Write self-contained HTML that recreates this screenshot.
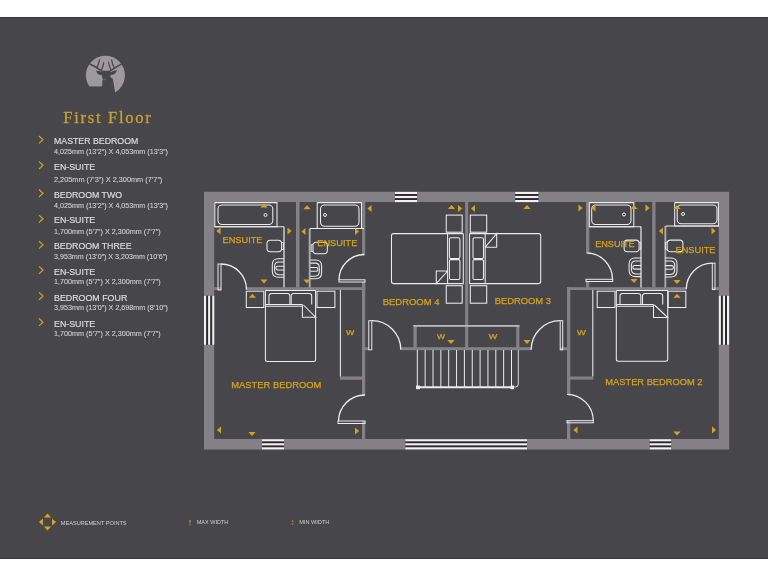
<!DOCTYPE html>
<html><head><meta charset="utf-8"><style>
html,body{margin:0;padding:0;background:#ffffff;width:768px;height:576px;overflow:hidden}
svg{position:absolute;left:0;top:0;display:block;will-change:transform}
text{font-family:"Liberation Sans",sans-serif}
</style></head><body>
<svg width="768" height="576" viewBox="0 0 768 576">
<rect x="0" y="17" width="768" height="542" fill="#47464b"/>
<rect x="0" y="17" width="768" height="1" fill="#3c3b40"/>
<rect x="0" y="558" width="768" height="1" fill="#3c3b40"/>
<path fill-rule="evenodd" fill="#838186" d="M204,191.8 H729.2 V449.4 H204 Z M214.2,202 V439 H718.8 V202 Z"/>
<rect x="296.00" y="202.00" width="3.50" height="85.50" fill="#838186"/>
<rect x="214.00" y="287.20" width="7.00" height="2.80" fill="#838186"/>
<rect x="246.00" y="287.20" width="119.20" height="2.80" fill="#838186"/>
<rect x="362.00" y="282.00" width="3.20" height="113.00" fill="#838186"/>
<rect x="362.00" y="421.00" width="3.20" height="18.00" fill="#838186"/>
<rect x="340.00" y="376.50" width="22.00" height="3.30" fill="#838186"/>
<rect x="365.00" y="347.20" width="4.00" height="3.00" fill="#838186"/>
<rect x="401.00" y="347.20" width="130.00" height="3.00" fill="#838186"/>
<rect x="560.00" y="347.20" width="8.00" height="3.00" fill="#838186"/>
<rect x="413.40" y="325.00" width="3.40" height="25.00" fill="#838186"/>
<rect x="516.20" y="325.00" width="3.20" height="25.00" fill="#838186"/>
<rect x="465.10" y="202.00" width="3.10" height="148.00" fill="#838186"/>
<rect x="567.00" y="287.20" width="3.30" height="106.80" fill="#838186"/>
<rect x="567.00" y="421.00" width="3.30" height="18.00" fill="#838186"/>
<rect x="567.00" y="287.20" width="119.00" height="2.80" fill="#838186"/>
<rect x="713.00" y="287.20" width="6.00" height="2.80" fill="#838186"/>
<rect x="570.00" y="376.50" width="23.30" height="3.10" fill="#838186"/>
<rect x="586.00" y="202.00" width="3.30" height="50.50" fill="#838186"/>
<rect x="586.00" y="281.50" width="3.30" height="6.00" fill="#838186"/>
<rect x="652.20" y="202.00" width="3.30" height="85.50" fill="#838186"/>
<rect x="413.40" y="325.00" width="106.00" height="1.80" fill="#b9b8bc"/>
<rect x="283.00" y="226.70" width="2.00" height="60.80" fill="#a9a8ac"/>
<rect x="308.70" y="228.40" width="2.00" height="59.10" fill="#a9a8ac"/>
<rect x="362.10" y="202.00" width="3.10" height="52.50" fill="#838186"/>
<rect x="640.00" y="226.70" width="2.00" height="60.80" fill="#a9a8ac"/>
<rect x="664.40" y="226.00" width="1.90" height="61.50" fill="#a9a8ac"/>
<rect x="394.80" y="191.90" width="22.30" height="10.00" fill="#2b2a2e"/><rect x="394.80" y="191.90" width="22.30" height="2.10" fill="#f2f1f0"/><rect x="394.80" y="195.95" width="22.30" height="2.10" fill="#f2f1f0"/><rect x="394.80" y="200.00" width="22.30" height="2.10" fill="#f2f1f0"/>
<rect x="515.20" y="191.90" width="23.30" height="10.00" fill="#2b2a2e"/><rect x="515.20" y="191.90" width="23.30" height="2.10" fill="#f2f1f0"/><rect x="515.20" y="195.95" width="23.30" height="2.10" fill="#f2f1f0"/><rect x="515.20" y="200.00" width="23.30" height="2.10" fill="#f2f1f0"/>
<rect x="262.00" y="439.20" width="22.00" height="10.00" fill="#2b2a2e"/><rect x="262.00" y="439.20" width="22.00" height="2.10" fill="#f2f1f0"/><rect x="262.00" y="443.25" width="22.00" height="2.10" fill="#f2f1f0"/><rect x="262.00" y="447.30" width="22.00" height="2.10" fill="#f2f1f0"/>
<rect x="405.30" y="439.20" width="121.70" height="10.00" fill="#2b2a2e"/><rect x="405.30" y="439.20" width="121.70" height="2.10" fill="#f2f1f0"/><rect x="405.30" y="443.25" width="121.70" height="2.10" fill="#f2f1f0"/><rect x="405.30" y="447.30" width="121.70" height="2.10" fill="#f2f1f0"/>
<rect x="649.70" y="439.20" width="21.50" height="10.00" fill="#2b2a2e"/><rect x="649.70" y="439.20" width="21.50" height="2.10" fill="#f2f1f0"/><rect x="649.70" y="443.25" width="21.50" height="2.10" fill="#f2f1f0"/><rect x="649.70" y="447.30" width="21.50" height="2.10" fill="#f2f1f0"/>
<rect x="204.00" y="295.70" width="10.30" height="49.10" fill="#2b2a2e"/><rect x="204.00" y="295.70" width="2.10" height="49.10" fill="#f2f1f0"/><rect x="208.10" y="295.70" width="2.10" height="49.10" fill="#f2f1f0"/><rect x="212.20" y="295.70" width="2.10" height="49.10" fill="#f2f1f0"/>
<rect x="718.80" y="295.70" width="10.30" height="49.10" fill="#2b2a2e"/><rect x="718.80" y="295.70" width="2.10" height="49.10" fill="#f2f1f0"/><rect x="722.90" y="295.70" width="2.10" height="49.10" fill="#f2f1f0"/><rect x="727.00" y="295.70" width="2.10" height="49.10" fill="#f2f1f0"/>
<polyline points="214.80,202.60 214.80,226.70 277.00,226.70 277.00,202.60 214.80,202.60" fill="none" stroke="#ecebee" stroke-width="1.05"/><rect x="218.00" y="205.00" width="54.80" height="19.50" rx="4.0" fill="none" stroke="#ecebee" stroke-width="1.05"/><circle cx="265.5" cy="215.0" r="1.5" fill="none" stroke="#ecebee" stroke-width="1"/>
<polyline points="214.20,226.70 284.00,226.70" fill="none" stroke="#ecebee" stroke-width="1.05"/>
<polyline points="317.20,202.60 317.20,228.40 361.50,228.40 361.50,202.60 317.20,202.60" fill="none" stroke="#ecebee" stroke-width="1.05"/><rect x="320.50" y="205.00" width="38.50" height="21.20" rx="4.0" fill="none" stroke="#ecebee" stroke-width="1.05"/><circle cx="325.0" cy="215.0" r="1.5" fill="none" stroke="#ecebee" stroke-width="1"/>
<polyline points="310.00,228.40 364.00,228.40" fill="none" stroke="#ecebee" stroke-width="1.05"/>
<polyline points="589.30,202.60 589.30,226.70 633.80,226.70 633.80,202.60 589.30,202.60" fill="none" stroke="#ecebee" stroke-width="1.05"/><rect x="591.70" y="205.00" width="39.30" height="19.50" rx="4.0" fill="none" stroke="#ecebee" stroke-width="1.05"/><circle cx="624.0" cy="214.5" r="1.5" fill="none" stroke="#ecebee" stroke-width="1"/>
<polyline points="589.30,226.70 641.00,226.70" fill="none" stroke="#ecebee" stroke-width="1.05"/>
<polyline points="674.70,202.60 674.70,226.00 718.40,226.00 718.40,202.60 674.70,202.60" fill="none" stroke="#ecebee" stroke-width="1.05"/><rect x="677.20" y="205.00" width="39.80" height="18.80" rx="4.0" fill="none" stroke="#ecebee" stroke-width="1.05"/><circle cx="683.0" cy="214.0" r="1.5" fill="none" stroke="#ecebee" stroke-width="1"/>
<polyline points="665.50,226.00 718.80,226.00" fill="none" stroke="#ecebee" stroke-width="1.05"/>
<rect x="218.00" y="264.00" width="3.00" height="26.00" fill="none" stroke="#ecebee" stroke-width="1"/><path d="M221.0,264.0 A25.5,25.5 0 0 1 246.5,289.5" fill="none" stroke="#ecebee" stroke-width="1.3"/>
<rect x="339.00" y="279.80" width="26.00" height="2.20" fill="none" stroke="#ecebee" stroke-width="1"/><path d="M339.0,280.0 A25.5,25.5 0 0 1 364.5,254.5" fill="none" stroke="#ecebee" stroke-width="1.3"/>
<rect x="368.80" y="320.70" width="3.00" height="29.10" fill="none" stroke="#ecebee" stroke-width="1"/><path d="M371.8,320.7 A29.0,29.0 0 0 1 400.8,349.8" fill="none" stroke="#ecebee" stroke-width="1.3"/>
<rect x="560.20" y="320.70" width="2.50" height="29.10" fill="none" stroke="#ecebee" stroke-width="1"/><path d="M560.2,320.7 A29.0,29.0 0 0 0 531.2,349.8" fill="none" stroke="#ecebee" stroke-width="1.3"/>
<rect x="586.00" y="279.30" width="26.70" height="2.20" fill="none" stroke="#ecebee" stroke-width="1"/><path d="M586.5,252.8 A26.5,26.5 0 0 1 612.5,279.3" fill="none" stroke="#ecebee" stroke-width="1.3"/>
<rect x="712.30" y="263.20" width="2.70" height="26.30" fill="none" stroke="#ecebee" stroke-width="1"/><path d="M712.3,263.2 A26.0,26.0 0 0 0 686.3,289.2" fill="none" stroke="#ecebee" stroke-width="1.3"/>
<rect x="338.00" y="421.00" width="27.00" height="2.50" fill="none" stroke="#ecebee" stroke-width="1"/><path d="M365.0,395.0 A26.5,26.5 0 0 0 338.5,421.0" fill="none" stroke="#ecebee" stroke-width="1.3"/>
<rect x="567.00" y="420.70" width="26.30" height="2.10" fill="none" stroke="#ecebee" stroke-width="1"/><path d="M567.0,394.3 A26.5,26.5 0 0 1 593.3,420.7" fill="none" stroke="#ecebee" stroke-width="1.3"/>
<path d="M265.4,290.4 V359.5 Q265.4,361.5 267.4,361.5 H313.6 Q315.6,361.5 315.6,359.5 V290.4" fill="none" stroke="#ecebee" stroke-width="1.05"/><polyline points="265.40,290.40 315.60,290.40" fill="none" stroke="#ecebee" stroke-width="1.05"/><path d="M269.0,304.5 V295.9 Q269.0,293.4 271.5,293.4 H287.4 Q289.9,293.4 289.9,295.9 V304.5" fill="none" stroke="#ecebee" stroke-width="1.05"/><path d="M291.2,304.5 V295.9 Q291.2,293.4 293.7,293.4 H309.2 Q311.7,293.4 311.7,295.9 V304.5" fill="none" stroke="#ecebee" stroke-width="1.05"/>
<polyline points="265.40,304.50 302.40,304.50" fill="none" stroke="#ecebee" stroke-width="1.05"/>
<polyline points="265.40,306.30 302.40,306.30" fill="none" stroke="#ecebee" stroke-width="1.05"/>
<polyline points="302.40,304.50 302.40,317.25 315.60,317.25 303.50,305.00" fill="none" stroke="#ecebee" stroke-width="1.05"/>
<path d="M616.3,290.4 V359.2 Q616.3,361.2 618.3,361.2 H665.7 Q667.7,361.2 667.7,359.2 V290.4" fill="none" stroke="#ecebee" stroke-width="1.05"/><polyline points="616.30,290.40 667.70,290.40" fill="none" stroke="#ecebee" stroke-width="1.05"/><path d="M620.0,304.5 V295.9 Q620.0,293.4 622.5,293.4 H638.3 Q640.8,293.4 640.8,295.9 V304.5" fill="none" stroke="#ecebee" stroke-width="1.05"/><path d="M642.5,304.5 V295.9 Q642.5,293.4 645.0,293.4 H660.2 Q662.7,293.4 662.7,295.9 V304.5" fill="none" stroke="#ecebee" stroke-width="1.05"/>
<polyline points="616.30,304.50 653.50,304.50" fill="none" stroke="#ecebee" stroke-width="1.05"/>
<polyline points="616.30,306.30 653.50,306.30" fill="none" stroke="#ecebee" stroke-width="1.05"/>
<polyline points="653.50,304.50 653.50,317.50 667.70,317.50 654.50,305.00" fill="none" stroke="#ecebee" stroke-width="1.05"/>
<rect x="246.30" y="291.20" width="17.50" height="16.30" rx="0.0" fill="none" stroke="#ecebee" stroke-width="1.05"/>
<rect x="317.00" y="291.20" width="17.90" height="16.30" rx="0.0" fill="none" stroke="#ecebee" stroke-width="1.05"/>
<rect x="597.20" y="291.20" width="17.80" height="16.30" rx="0.0" fill="none" stroke="#ecebee" stroke-width="1.05"/>
<rect x="668.20" y="291.20" width="17.60" height="16.30" rx="0.0" fill="none" stroke="#ecebee" stroke-width="1.05"/>
<rect x="446.25" y="215.10" width="15.95" height="17.10" rx="0.0" fill="none" stroke="#ecebee" stroke-width="1.05"/>
<rect x="446.25" y="285.70" width="15.95" height="17.50" rx="0.0" fill="none" stroke="#ecebee" stroke-width="1.05"/>
<rect x="470.30" y="215.10" width="16.40" height="17.10" rx="0.0" fill="none" stroke="#ecebee" stroke-width="1.05"/>
<rect x="470.30" y="285.70" width="16.40" height="17.50" rx="0.0" fill="none" stroke="#ecebee" stroke-width="1.05"/>
<polyline points="340.40,290.00 340.40,376.50" fill="none" stroke="#ecebee" stroke-width="1.05"/>
<polyline points="592.80,290.00 592.80,376.50" fill="none" stroke="#ecebee" stroke-width="1.05"/>
<path d="M463.3,233.6 H393.5 Q391.5,233.6 391.5,235.6 V281.6 Q391.5,283.6 393.5,283.6 H463.3 V233.6" fill="none" stroke="#ecebee" stroke-width="1.05"/>
<rect x="449.40" y="237.80" width="10.50" height="20.80" rx="1.5" fill="none" stroke="#ecebee" stroke-width="1.05"/>
<rect x="449.40" y="259.60" width="10.50" height="19.80" rx="1.5" fill="none" stroke="#ecebee" stroke-width="1.05"/>
<polyline points="447.60,233.60 447.60,283.60" fill="none" stroke="#ecebee" stroke-width="1.05"/>
<polyline points="447.60,271.00 436.25,271.00 436.25,283.60 447.60,271.00" fill="none" stroke="#ecebee" stroke-width="1.05"/>
<path d="M469.6,233.6 H538.7 Q540.7,233.6 540.7,235.6 V281.6 Q540.7,283.6 538.7,283.6 H469.6 V233.6" fill="none" stroke="#ecebee" stroke-width="1.05"/>
<rect x="473.00" y="237.80" width="10.50" height="20.80" rx="1.5" fill="none" stroke="#ecebee" stroke-width="1.05"/>
<rect x="473.00" y="259.60" width="10.50" height="19.80" rx="1.5" fill="none" stroke="#ecebee" stroke-width="1.05"/>
<polyline points="485.20,233.60 485.20,283.60" fill="none" stroke="#ecebee" stroke-width="1.05"/>
<polyline points="485.20,247.20 496.70,247.20 496.70,233.60 485.20,247.20" fill="none" stroke="#ecebee" stroke-width="1.05"/>
<polyline points="417.30,350.00 417.30,387.00" fill="none" stroke="#ecebee" stroke-width="1.00"/>
<polyline points="425.15,350.00 425.15,387.00" fill="none" stroke="#ecebee" stroke-width="1.00"/>
<polyline points="433.00,350.00 433.00,387.00" fill="none" stroke="#ecebee" stroke-width="1.00"/>
<polyline points="440.85,350.00 440.85,387.00" fill="none" stroke="#ecebee" stroke-width="1.00"/>
<polyline points="448.70,350.00 448.70,387.00" fill="none" stroke="#ecebee" stroke-width="1.00"/>
<polyline points="456.55,350.00 456.55,387.00" fill="none" stroke="#ecebee" stroke-width="1.00"/>
<polyline points="464.40,350.00 464.40,387.00" fill="none" stroke="#ecebee" stroke-width="1.00"/>
<polyline points="472.25,350.00 472.25,387.00" fill="none" stroke="#ecebee" stroke-width="1.00"/>
<polyline points="480.10,350.00 480.10,387.00" fill="none" stroke="#ecebee" stroke-width="1.00"/>
<polyline points="487.95,350.00 487.95,387.00" fill="none" stroke="#ecebee" stroke-width="1.00"/>
<polyline points="495.80,350.00 495.80,387.00" fill="none" stroke="#ecebee" stroke-width="1.00"/>
<polyline points="503.65,350.00 503.65,387.00" fill="none" stroke="#ecebee" stroke-width="1.00"/>
<polyline points="511.50,350.00 511.50,387.00" fill="none" stroke="#ecebee" stroke-width="1.00"/>
<polyline points="417.00,387.20 512.00,387.20" fill="none" stroke="#ecebee" stroke-width="2.00"/>
<path d="M512,387 H515.5 Q518.3,387 518.3,384 V350" fill="none" stroke="#ecebee" stroke-width="0.9"/>
<rect x="416.00" y="385.50" width="4.00" height="3.70" fill="#ecebee"/>
<rect x="510.50" y="385.50" width="3.50" height="3.70" fill="#ecebee"/>
<rect x="267.00" y="240.20" width="14.60" height="11.60" rx="3.2" fill="none" stroke="#ecebee" stroke-width="1.05"/><polyline points="281.60,242.50 283.40,242.50 283.40,249.50 281.60,249.50" fill="none" stroke="#ecebee" stroke-width="0.90"/>
<rect x="313.00" y="242.30" width="14.30" height="11.50" rx="3.2" fill="none" stroke="#ecebee" stroke-width="1.05"/><polyline points="313.00,244.60 311.20,244.60 311.20,251.50 313.00,251.50" fill="none" stroke="#ecebee" stroke-width="0.90"/>
<rect x="624.10" y="240.10" width="15.00" height="11.60" rx="3.2" fill="none" stroke="#ecebee" stroke-width="1.05"/><polyline points="639.10,242.40 640.90,242.40 640.90,249.40 639.10,249.40" fill="none" stroke="#ecebee" stroke-width="0.90"/>
<rect x="667.20" y="240.10" width="15.70" height="11.60" rx="3.2" fill="none" stroke="#ecebee" stroke-width="1.05"/><polyline points="667.20,242.40 665.40,242.40 665.40,249.40 667.20,249.40" fill="none" stroke="#ecebee" stroke-width="0.90"/>
<path d="M284.2,258.8 H278.3 Q272.3,258.8 272.3,264.8 V271.3 Q272.3,277.3 278.3,277.3 H284.2" fill="none" stroke="#ecebee" stroke-width="1.05"/><path d="M284.2,261.9 H278.8 Q274.6,261.9 274.6,266.3 V269.8 Q274.6,274.7 278.8,274.7 H284.2" fill="none" stroke="#ecebee" stroke-width="1.05"/><path d="M284.2,266.2 H277.8 Q275.9,266.2 275.9,268.1 Q275.9,269.9 277.8,269.9 H284.2" fill="none" stroke="#ecebee" stroke-width="1.05"/>
<path d="M310.2,260.0 H315.6 Q321.6,260.0 321.6,266.0 V272.8 Q321.6,278.8 315.6,278.8 H310.2" fill="none" stroke="#ecebee" stroke-width="1.05"/><path d="M310.2,263.1 H315.1 Q319.3,263.1 319.3,267.5 V271.3 Q319.3,276.2 315.1,276.2 H310.2" fill="none" stroke="#ecebee" stroke-width="1.05"/><path d="M310.2,267.5 H316.1 Q318.0,267.5 318.0,269.4 Q318.0,271.3 316.1,271.3 H310.2" fill="none" stroke="#ecebee" stroke-width="1.05"/>
<path d="M641.0,257.9 H635.1 Q629.1,257.9 629.1,263.9 V270.6 Q629.1,276.6 635.1,276.6 H641.0" fill="none" stroke="#ecebee" stroke-width="1.05"/><path d="M641.0,261.0 H635.6 Q631.4,261.0 631.4,265.4 V269.1 Q631.4,274.0 635.6,274.0 H641.0" fill="none" stroke="#ecebee" stroke-width="1.05"/><path d="M641.0,265.4 H634.6 Q632.7,265.4 632.7,267.2 Q632.7,269.1 634.6,269.1 H641.0" fill="none" stroke="#ecebee" stroke-width="1.05"/>
<path d="M665.3,257.9 H671.0 Q677.0,257.9 677.0,263.9 V271.0 Q677.0,277.0 671.0,277.0 H665.3" fill="none" stroke="#ecebee" stroke-width="1.05"/><path d="M665.3,261.0 H670.5 Q674.7,261.0 674.7,265.4 V269.5 Q674.7,274.4 670.5,274.4 H665.3" fill="none" stroke="#ecebee" stroke-width="1.05"/><path d="M665.3,265.6 H671.5 Q673.4,265.6 673.4,267.4 Q673.4,269.3 671.5,269.3 H665.3" fill="none" stroke="#ecebee" stroke-width="1.05"/>
<polygon points="260.4,207.5 267.6,207.5 264.0,203.4" fill="#d4a41e"/>
<polygon points="220.5,227.4 220.5,234.6 216.4,231.0" fill="#d4a41e"/>
<polygon points="287.5,227.4 287.5,234.6 291.6,231.0" fill="#d4a41e"/>
<polygon points="260.4,279.5 267.6,279.5 264.0,283.6" fill="#d4a41e"/>
<polygon points="303.4,209.3 310.6,209.3 307.0,205.2" fill="#d4a41e"/>
<polygon points="305.5,227.9 305.5,235.1 301.4,231.5" fill="#d4a41e"/>
<polygon points="355.0,227.9 355.0,235.1 359.1,231.5" fill="#d4a41e"/>
<polygon points="303.4,279.5 310.6,279.5 307.0,283.6" fill="#d4a41e"/>
<polygon points="371.5,204.9 371.5,212.1 367.4,208.5" fill="#d4a41e"/>
<polygon points="447.9,209.0 455.1,209.0 451.5,204.9" fill="#d4a41e"/>
<polygon points="458.0,204.9 458.0,212.1 462.1,208.5" fill="#d4a41e"/>
<polygon points="475.0,204.9 475.0,212.1 470.9,208.5" fill="#d4a41e"/>
<polygon points="523.4,209.0 530.6,209.0 527.0,204.9" fill="#d4a41e"/>
<polygon points="578.5,204.4 578.5,211.6 582.6,208.0" fill="#d4a41e"/>
<polygon points="595.5,204.4 595.5,211.6 591.4,208.0" fill="#d4a41e"/>
<polygon points="630.4,209.0 637.6,209.0 634.0,204.9" fill="#d4a41e"/>
<polygon points="645.5,204.4 645.5,211.6 649.6,208.0" fill="#d4a41e"/>
<polygon points="663.0,227.4 663.0,234.6 658.9,231.0" fill="#d4a41e"/>
<polygon points="673.4,209.0 680.6,209.0 677.0,204.9" fill="#d4a41e"/>
<polygon points="711.5,227.4 711.5,234.6 715.6,231.0" fill="#d4a41e"/>
<polygon points="673.4,280.0 680.6,280.0 677.0,284.1" fill="#d4a41e"/>
<polygon points="630.4,279.0 637.6,279.0 634.0,283.1" fill="#d4a41e"/>
<polygon points="248.8,297.8 256.0,297.8 252.4,293.7" fill="#d4a41e"/>
<polygon points="673.4,297.8 680.6,297.8 677.0,293.7" fill="#d4a41e"/>
<polygon points="221.0,426.4 221.0,433.6 216.9,430.0" fill="#d4a41e"/>
<polygon points="248.4,432.0 255.6,432.0 252.0,436.1" fill="#d4a41e"/>
<polygon points="355.0,427.4 355.0,434.6 359.1,431.0" fill="#d4a41e"/>
<polygon points="447.4,340.0 454.6,340.0 451.0,344.1" fill="#d4a41e"/>
<polygon points="523.4,340.0 530.6,340.0 527.0,344.1" fill="#d4a41e"/>
<polygon points="577.5,426.4 577.5,433.6 573.4,430.0" fill="#d4a41e"/>
<polygon points="673.4,431.5 680.6,431.5 677.0,435.6" fill="#d4a41e"/>
<polygon points="712.0,426.4 712.0,433.6 716.1,430.0" fill="#d4a41e"/>
<text x="222.5" y="243.3" font-size="9.5" fill="#d4a41e" stroke="#d4a41e" stroke-width="0.25" textLength="40.0" lengthAdjust="spacingAndGlyphs">ENSUITE</text>
<text x="317.3" y="246.3" font-size="9.5" fill="#d4a41e" stroke="#d4a41e" stroke-width="0.25" textLength="40.0" lengthAdjust="spacingAndGlyphs">ENSUITE</text>
<text x="595.2" y="246.8" font-size="9.5" fill="#d4a41e" stroke="#d4a41e" stroke-width="0.25" textLength="39.5" lengthAdjust="spacingAndGlyphs">ENSUITE</text>
<text x="675.5" y="253.0" font-size="9.5" fill="#d4a41e" stroke="#d4a41e" stroke-width="0.25" textLength="40.0" lengthAdjust="spacingAndGlyphs">ENSUITE</text>
<text x="231.3" y="388.2" font-size="9.0" fill="#d4a41e" stroke="#d4a41e" stroke-width="0.25" textLength="90.0" lengthAdjust="spacingAndGlyphs">MASTER BEDROOM</text>
<text x="382.7" y="305.2" font-size="9.0" fill="#d4a41e" stroke="#d4a41e" stroke-width="0.25" textLength="56.8" lengthAdjust="spacingAndGlyphs">BEDROOM 4</text>
<text x="494.7" y="303.5" font-size="9.0" fill="#d4a41e" stroke="#d4a41e" stroke-width="0.25" textLength="56.3" lengthAdjust="spacingAndGlyphs">BEDROOM 3</text>
<text x="605.3" y="384.5" font-size="9.0" fill="#d4a41e" stroke="#d4a41e" stroke-width="0.25" textLength="97.2" lengthAdjust="spacingAndGlyphs">MASTER BEDROOM 2</text>
<text x="346.0" y="334.8" font-size="7.4" fill="#d4a41e" stroke="#d4a41e" stroke-width="0.25" textLength="8.3" lengthAdjust="spacingAndGlyphs">W</text>
<text x="437.0" y="339.0" font-size="7.4" fill="#d4a41e" stroke="#d4a41e" stroke-width="0.25" textLength="8.0" lengthAdjust="spacingAndGlyphs">W</text>
<text x="488.7" y="339.0" font-size="7.4" fill="#d4a41e" stroke="#d4a41e" stroke-width="0.25" textLength="8.5" lengthAdjust="spacingAndGlyphs">W</text>
<text x="577.0" y="335.3" font-size="7.4" fill="#d4a41e" stroke="#d4a41e" stroke-width="0.25" textLength="8.8" lengthAdjust="spacingAndGlyphs">W</text>
<g>
<circle cx="105.4" cy="75.35" r="19.55" fill="#9c9a9e"/>
<polygon points="84.00,86.48 102.39,86.48 102.39,99.26 84.00,99.26" fill="#47464b"/>
<polygon points="102.39,80.28 110.64,77.36 112.61,78.45 113.93,84.66 116.12,99.26 101.52,99.26 101.52,86.85 102.25,86.12" fill="#47464b"/>
<polygon points="102.61,70.64 109.55,70.64 111.01,72.83 110.42,77.21 109.55,81.15 107.50,82.76 104.80,82.76 103.12,81.15 102.25,77.21 101.37,72.83" fill="#47464b"/>
<polygon points="96.04,70.50 99.47,70.93 102.39,72.61 102.25,75.02 98.96,74.80 96.99,73.12" fill="#47464b"/>
<polygon points="116.99,70.06 113.34,70.93 109.99,72.61 110.28,75.02 113.93,74.58 115.97,72.61" fill="#47464b"/>
<polyline points="89.11,63.64 95.68,66.99 102.61,71.52" fill="none" stroke="#47464b" stroke-width="1.50" stroke-linecap="round" stroke-linejoin="round"/>
<polyline points="99.47,59.84 98.31,64.58 96.77,68.01" fill="none" stroke="#47464b" stroke-width="1.20" stroke-linecap="round" stroke-linejoin="round"/>
<polyline points="103.71,62.61 102.83,66.55 101.37,69.91" fill="none" stroke="#47464b" stroke-width="1.20" stroke-linecap="round" stroke-linejoin="round"/>
<polyline points="121.81,63.93 116.12,67.14 109.18,71.52" fill="none" stroke="#47464b" stroke-width="1.50" stroke-linecap="round" stroke-linejoin="round"/>
<polyline points="111.59,59.84 112.76,64.58 114.29,67.72" fill="none" stroke="#47464b" stroke-width="1.20" stroke-linecap="round" stroke-linejoin="round"/>
<polyline points="108.53,62.47 109.55,66.55 111.15,69.91" fill="none" stroke="#47464b" stroke-width="1.20" stroke-linecap="round" stroke-linejoin="round"/>
<polyline points="103.34,79.69 105.90,79.69" fill="none" stroke="#8d8b90" stroke-width="0.6"/>
</g>
<text x="63.3" y="122.9" style="font-family:'Liberation Serif',serif" font-size="16.6" fill="#c9a033" stroke="#c9a033" stroke-width="0.3" textLength="87.5" lengthAdjust="spacing">First Floor</text>
<polyline points="39,136.0 43,139.7 39,143.4" fill="none" stroke="#d4a41e" stroke-width="1.2"/>
<text x="54" y="144.2" font-size="9.3" fill="#dcdbde" stroke="#dcdbde" stroke-width="0.2" textLength="84.3" lengthAdjust="spacingAndGlyphs">MASTER BEDROOM</text>
<text x="54" y="153.8" font-size="7.2" fill="#d3d1d5" stroke="#d3d1d5" stroke-width="0.1" textLength="114.0" lengthAdjust="spacingAndGlyphs">4,025mm (13’2”) X 4,053mm (13’3”)</text>
<polyline points="39,161.6 43,165.3 39,169.0" fill="none" stroke="#d4a41e" stroke-width="1.2"/>
<text x="54" y="169.8" font-size="9.3" fill="#dcdbde" stroke="#dcdbde" stroke-width="0.2" textLength="41.2" lengthAdjust="spacingAndGlyphs">EN-SUITE</text>
<text x="54" y="181.7" font-size="7.2" fill="#d3d1d5" stroke="#d3d1d5" stroke-width="0.1" textLength="108.3" lengthAdjust="spacingAndGlyphs">2,205mm (7’3”) X 2,300mm (7’7”)</text>
<polyline points="39,189.5 43,193.2 39,196.9" fill="none" stroke="#d4a41e" stroke-width="1.2"/>
<text x="54" y="197.7" font-size="9.3" fill="#dcdbde" stroke="#dcdbde" stroke-width="0.2" textLength="68.0" lengthAdjust="spacingAndGlyphs">BEDROOM TWO</text>
<text x="54" y="207.5" font-size="7.2" fill="#d3d1d5" stroke="#d3d1d5" stroke-width="0.1" textLength="114.0" lengthAdjust="spacingAndGlyphs">4,025mm (13’2”) X 4,053mm (13’3”)</text>
<polyline points="39,215.1 43,218.8 39,222.5" fill="none" stroke="#d4a41e" stroke-width="1.2"/>
<text x="54" y="223.3" font-size="9.3" fill="#dcdbde" stroke="#dcdbde" stroke-width="0.2" textLength="41.2" lengthAdjust="spacingAndGlyphs">EN-SUITE</text>
<text x="54" y="233.8" font-size="7.2" fill="#d3d1d5" stroke="#d3d1d5" stroke-width="0.1" textLength="106.6" lengthAdjust="spacingAndGlyphs">1,700mm (5’7”) X 2,300mm (7’7”)</text>
<polyline points="39,241.2 43,244.9 39,248.6" fill="none" stroke="#d4a41e" stroke-width="1.2"/>
<text x="54" y="249.4" font-size="9.3" fill="#dcdbde" stroke="#dcdbde" stroke-width="0.2" textLength="77.5" lengthAdjust="spacingAndGlyphs">BEDROOM THREE</text>
<text x="54" y="259.2" font-size="7.2" fill="#d3d1d5" stroke="#d3d1d5" stroke-width="0.1" textLength="113.5" lengthAdjust="spacingAndGlyphs">3,953mm (13’0”) X 3,203mm (10’6”)</text>
<polyline points="39,266.4 43,270.1 39,273.8" fill="none" stroke="#d4a41e" stroke-width="1.2"/>
<text x="54" y="274.6" font-size="9.3" fill="#dcdbde" stroke="#dcdbde" stroke-width="0.2" textLength="41.2" lengthAdjust="spacingAndGlyphs">EN-SUITE</text>
<text x="54" y="284.4" font-size="7.2" fill="#d3d1d5" stroke="#d3d1d5" stroke-width="0.1" textLength="106.6" lengthAdjust="spacingAndGlyphs">1,700mm (5’7”) X 2,300mm (7’7”)</text>
<polyline points="39,292.4 43,296.1 39,299.8" fill="none" stroke="#d4a41e" stroke-width="1.2"/>
<text x="54" y="300.6" font-size="9.3" fill="#dcdbde" stroke="#dcdbde" stroke-width="0.2" textLength="73.3" lengthAdjust="spacingAndGlyphs">BEDROOM FOUR</text>
<text x="54" y="310.0" font-size="7.2" fill="#d3d1d5" stroke="#d3d1d5" stroke-width="0.1" textLength="114.0" lengthAdjust="spacingAndGlyphs">3,953mm (13’0”) X 2,698mm (8’10”)</text>
<polyline points="39,318.5 43,322.2 39,325.9" fill="none" stroke="#d4a41e" stroke-width="1.2"/>
<text x="54" y="326.7" font-size="9.3" fill="#dcdbde" stroke="#dcdbde" stroke-width="0.2" textLength="41.2" lengthAdjust="spacingAndGlyphs">EN-SUITE</text>
<text x="54" y="336.0" font-size="7.2" fill="#d3d1d5" stroke="#d3d1d5" stroke-width="0.1" textLength="106.6" lengthAdjust="spacingAndGlyphs">1,700mm (5’7”) X 2,300mm (7’7”)</text>
<polygon points="43.9,517.5 51.1,517.5 47.5,513.4" fill="#d4a41e"/>
<polygon points="43.9,526.5 51.1,526.5 47.5,530.6" fill="#d4a41e"/>
<polygon points="43.0,518.4 43.0,525.6 38.9,522.0" fill="#d4a41e"/>
<polygon points="52.0,518.4 52.0,525.6 56.1,522.0" fill="#d4a41e"/>
<text x="60.8" y="524.5" font-size="6" fill="#d0cfd3" textLength="65.8" lengthAdjust="spacingAndGlyphs">MEASUREMENT POINTS</text>
<line x1="190" y1="520.5" x2="190" y2="525.5" stroke="#d4a41e" stroke-width="0.9" opacity="0.65"/>
<polygon points="188.7,521.8 191.3,521.8 190,519.5" fill="#d4a41e" opacity="0.65"/>
<text x="196.7" y="524.3" font-size="6" fill="#d0cfd3" textLength="31.6" lengthAdjust="spacingAndGlyphs">MAX WIDTH</text>
<polygon points="291.2,521.8 293.8,521.8 292.5,519.8" fill="#d4a41e" opacity="0.65"/>
<polygon points="291.2,523.2 293.8,523.2 292.5,525.2" fill="#d4a41e" opacity="0.65"/>
<text x="299.2" y="524.3" font-size="6" fill="#d0cfd3" textLength="30.2" lengthAdjust="spacingAndGlyphs">MIN WIDTH</text>
</svg>
</body></html>
